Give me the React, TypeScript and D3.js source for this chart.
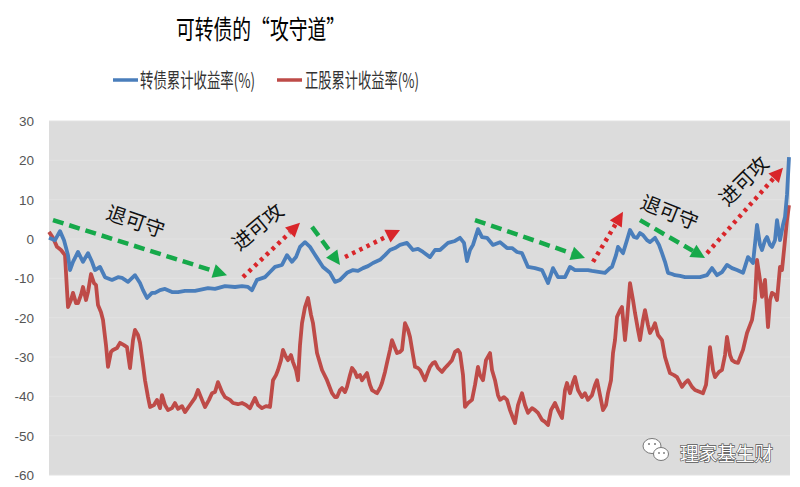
import * as d3 from "d3";

// 转债累计收益率 (%) : [交易日序号, 收益率]
const bondSeries: [number, number][] = [
  [0, 0.3], [6, -0.3], [11, 2.0], [15, -0.3], [19, -4.1], [21, -7.9], [24, -5.8], [29, -3.3], [34, -5.8], [39, -3.6],
  [43, -5.8], [46, -7.9], [51, -7.1], [56, -9.7], [63, -10.4], [69, -9.7], [73, -9.9], [79, -10.9], [86, -9.2], [91, -11.2],
  [94, -13.0], [98, -15.0], [103, -13.7], [106, -13.7], [111, -13.0], [116, -12.7], [123, -13.5], [129, -13.5], [136, -13.2],
  [146, -13.2], [159, -12.5], [166, -12.7], [176, -12.0], [186, -12.2], [193, -12.0], [199, -12.2], [203, -13.0], [208, -10.4],
  [216, -9.7], [221, -8.4], [226, -7.1], [233, -6.6], [238, -4.1], [243, -5.8], [247, -4.6], [251, -2.0], [256, -0.8],
  [261, -2.0], [265, -3.6], [268, -4.8], [274, -7.1], [281, -8.6], [286, -10.9], [291, -10.4], [298, -8.6], [304, -7.9],
  [309, -8.1], [314, -7.4], [319, -6.9], [324, -6.1], [331, -5.3], [336, -4.1], [341, -2.8], [346, -2.3], [351, -1.5],
  [358, -1.0], [364, -2.8], [369, -2.5], [374, -3.3], [381, -4.6], [386, -2.8], [391, -2.8], [399, -1.0], [406, -0.5],
  [411, 0.3], [415, -1.0], [418, -5.6], [421, -2.8], [424, -1.5], [429, 2.5], [433, 0.5], [438, 0.3], [444, -1.5],
  [451, -0.8], [458, -2.3], [463, -2.3], [468, -3.3], [473, -3.6], [479, -7.1], [486, -7.4], [493, -7.9], [499, -11.2],
  [504, -7.4], [509, -9.7], [516, -9.7], [521, -7.1], [526, -7.9], [533, -7.9], [539, -7.9], [543, -8.1], [551, -8.4],
  [556, -8.6], [561, -7.4], [563, -7.1], [567, -4.1], [569, -2.0], [574, -3.6], [578, -0.3], [581, 2.3], [585, 0.5],
  [588, 0.3], [591, 1.5], [594, 1.0], [598, -0.3], [601, -0.8], [606, 0.3], [610, -1.5], [613, -3.6], [616, -5.8],
  [619, -8.6], [623, -8.9], [626, -9.2], [631, -9.4], [636, -9.7], [641, -9.7], [646, -9.7], [651, -9.7], [658, -9.2],
  [663, -7.4], [668, -9.2], [673, -8.4], [678, -6.6], [683, -7.4], [688, -7.9], [694, -8.6], [699, -4.6], [704, -6.1],
  [708, 3.6], [711, -1.5], [713, -2.8], [716, -0.3], [718, 0.5], [721, -1.5], [723, -2.0], [726, -0.3], [728, 4.8],
  [731, -0.3], [734, 3.6], [736, 5.6], [738, 11.2], [740, 20.8],
];

// 正股累计收益率 (%)
const stockSeries: [number, number][] = [
  [0, 1.8], [4, 0.3], [8, -2.0], [12, -2.8], [16, -4.1], [18, -13.0], [19, -17.3], [22, -15.5], [24, -13.7], [27, -16.3],
  [29, -16.3], [32, -14.2], [34, -12.2], [37, -15.5], [39, -13.5], [42, -8.9], [45, -11.2], [47, -11.7], [49, -16.8],
  [52, -18.6], [54, -20.6], [57, -27.0], [59, -32.5], [62, -28.7], [64, -28.2], [68, -27.7], [71, -26.4], [75, -27.0],
  [78, -27.5], [81, -32.8], [84, -25.7], [86, -23.1], [89, -24.4], [91, -26.4], [94, -32.0], [96, -35.9], [99, -40.2],
  [101, -42.7], [105, -42.2], [108, -40.9], [111, -43.0], [113, -39.7], [116, -42.2], [119, -43.5], [123, -43.0],
  [126, -41.7], [129, -43.2], [133, -42.5], [136, -44.0], [141, -42.2], [146, -40.4], [149, -38.4], [153, -40.9],
  [156, -42.7], [160, -40.9], [163, -39.2], [166, -38.9], [169, -36.4], [173, -38.9], [176, -40.2], [181, -40.9],
  [184, -41.7], [189, -42.0], [193, -41.7], [197, -42.2], [201, -43.0], [206, -40.4], [209, -42.2], [213, -43.0],
  [217, -42.5], [221, -42.7], [224, -35.9], [227, -34.6], [229, -33.3], [232, -30.8], [234, -28.2], [237, -30.0],
  [239, -30.8], [242, -29.5], [244, -31.3], [247, -33.3], [249, -35.9], [251, -27.0], [253, -21.4], [256, -17.3],
  [259, -15.0], [262, -19.3], [264, -21.4], [268, -29.0], [273, -33.3], [278, -35.9], [283, -39.2], [286, -40.2],
  [288, -40.2], [291, -38.4], [293, -37.9], [296, -38.9], [298, -37.6], [301, -34.6], [303, -32.8], [306, -33.8],
  [308, -35.1], [311, -34.6], [313, -35.9], [316, -34.8], [318, -34.1], [321, -37.1], [323, -38.4], [326, -38.9],
  [328, -39.2], [331, -37.9], [333, -36.6], [336, -33.8], [338, -31.5], [341, -28.2], [343, -25.7], [346, -27.7],
  [348, -29.0], [351, -28.7], [353, -28.2], [356, -21.4], [359, -23.1], [361, -24.9], [364, -29.5], [366, -32.5],
  [369, -32.8], [371, -33.3], [374, -34.8], [376, -35.9], [379, -33.8], [381, -32.5], [384, -31.5], [386, -31.3],
  [389, -32.8], [393, -33.8], [396, -32.8], [399, -32.0], [403, -30.8], [406, -28.7], [409, -28.2], [411, -29.0],
  [414, -34.6], [416, -42.7], [419, -41.7], [423, -40.9], [426, -37.1], [429, -32.5], [431, -34.6], [434, -35.9],
  [437, -30.8], [441, -29.0], [443, -33.3], [446, -35.9], [449, -39.7], [451, -40.9], [455, -40.2], [458, -40.9],
  [461, -43.5], [464, -45.5], [466, -46.8], [469, -42.2], [473, -39.2], [476, -42.2], [479, -44.2], [483, -43.0],
  [486, -43.5], [489, -44.2], [493, -46.0], [496, -46.5], [499, -47.3], [502, -43.5], [506, -41.7], [509, -43.5],
  [513, -45.5], [516, -38.4], [518, -36.6], [521, -39.2], [524, -36.4], [526, -35.1], [529, -38.4], [533, -40.2],
  [536, -39.2], [539, -40.9], [543, -39.7], [546, -37.1], [548, -35.9], [551, -39.7], [554, -43.5], [557, -42.2],
  [559, -39.2], [562, -35.9], [564, -29.0], [566, -25.7], [568, -19.8], [571, -18.1], [573, -17.3], [576, -25.7],
  [578, -20.6], [581, -11.2], [584, -15.5], [586, -18.8], [589, -23.1], [591, -25.7], [594, -20.6], [596, -18.1],
  [599, -21.9], [601, -23.9], [604, -22.6], [606, -21.4], [609, -24.4], [613, -25.7], [616, -30.0], [619, -32.5],
  [621, -34.1], [625, -34.6], [628, -35.1], [631, -36.6], [633, -37.6], [636, -36.6], [639, -35.9], [643, -37.6],
  [646, -38.4], [651, -38.9], [654, -39.2], [657, -37.1], [661, -27.5], [664, -33.3], [666, -35.1], [670, -33.8],
  [673, -33.3], [676, -29.5], [678, -24.9], [681, -29.5], [683, -30.8], [686, -31.3], [689, -31.5], [692, -29.5],
  [694, -28.2], [698, -23.9], [701, -21.9], [703, -20.6], [706, -15.5], [708, -5.3], [711, -10.4], [713, -14.7],
  [716, -10.4], [719, -22.4], [721, -15.5], [723, -13.7], [726, -14.2], [728, -15.5], [731, -7.1], [733, -7.9],
  [736, -0.3], [738, 4.8], [740, 8.6],
];

const yTicks = [30, 20, 10, 0, -10, -20, -30, -40, -50, -60];

const seriesNames = ["转债累计收益率(%)", "正股累计收益率(%)"];
const seriesColors = ["#4a7ebb", "#be4b48"];

// 箭头: [起点日, 起点值, 终点日, 终点值]
const defendArrows: [number, number, number, number][] = [
  [4, 4.8, 178, -9.2],
  [263, 3.1, 291, -6.6],
  [426, 4.8, 536, -4.8],
  [591, 4.8, 656, -4.8],
];
const attackArrows: [number, number, number, number][] = [
  [194, -9.7, 251, 4.1],
  [296, -4.6, 351, 2.3],
  [544, -5.8, 574, 6.9],
  [658, -3.6, 734, 18.1],
];
// 文字标注: [文字, 日, 值, 旋转角度]
const notes: [string, number, number, number][] = [
  ["退可守", 87, 4.8, 19],
  ["进可攻", 208, 3.3, -40],
  ["退可守", 621, 7.1, 22],
  ["进可攻", 694, 15, -45],
];

const W = 800;
const H = 487;
const margin = { top: 121, right: 10, bottom: 12, left: 49 };

function Arrow(props: { seg: [number, number, number, number]; color: string; dash: string; x: any; y: any }) {
  const { seg, color, dash, x, y } = props;
  const x1 = x(seg[0]), y1 = y(seg[1]), x2 = x(seg[2]), y2 = y(seg[3]);
  const ang = Math.atan2(y2 - y1, x2 - x1);
  const headL = 14, headW = 7;
  const bx = x2 - headL * Math.cos(ang), by = y2 - headL * Math.sin(ang);
  const px = -Math.sin(ang) * headW, py = Math.cos(ang) * headW;
  return (
    <g>
      <line x1={x1} y1={y1} x2={bx} y2={by} stroke={color} strokeWidth={4.5} strokeDasharray={dash} />
      <polygon points={`${x2},${y2} ${bx + px},${by + py} ${bx - px},${by - py}`} fill={color} />
    </g>
  );
}

export default function App() {
  const x = d3.scaleLinear().domain([0, 741]).range([margin.left, W - margin.right]);
  const y = d3.scaleLinear().domain([-60, 30]).range([H - margin.bottom, margin.top]);

  const line = d3.line<[number, number]>()
    .x(d => x(d[0]))
    .y(d => y(d[1]));

  const cjk = "'Noto Sans CJK SC', 'Noto Sans', sans-serif";

  return (
    <div style={{ position: "absolute", left: 0, top: 0 }}>
      <svg width={W} height={H} style={{ display: "block", background: "#ffffff" }}>
        {/* 标题 */}
        <text x={176} y={39} fontFamily={cjk} fontSize={26} fill="#000" textLength={169} lengthAdjust="spacingAndGlyphs">
          可转债的“攻守道”
        </text>

        {/* 图例 */}
        <g fontFamily={cjk} fontSize={20} fill="#333">
          <line x1={113} x2={138} y1={80} y2={80} stroke={seriesColors[0]} strokeWidth={3.5} />
          <text x={140} y={88} textLength={115} lengthAdjust="spacingAndGlyphs">{seriesNames[0]}</text>
          <line x1={277} x2={302} y1={80} y2={80} stroke={seriesColors[1]} strokeWidth={3.5} />
          <text x={305} y={88} textLength={114} lengthAdjust="spacingAndGlyphs">{seriesNames[1]}</text>
        </g>

        {/* 绘图区 */}
        <rect x={margin.left} y={margin.top} width={W - margin.left - margin.right} height={H - margin.top - margin.bottom} fill="#dcdcdc" />
        {yTicks.map(t => (
          <line key={t} x1={margin.left} x2={W - margin.right} y1={y(t)} y2={y(t)} stroke="#e2e2e2" strokeWidth={1} />
        ))}

        {/* y 轴刻度 */}
        <g fontFamily="'Liberation Sans', Arial, sans-serif" fontSize={13.5} fill="#555" textAnchor="end">
          {yTicks.map(t => (
            <text key={t} x={34} y={y(t) + 5}>{t}</text>
          ))}
        </g>

        {/* 曲线 */}
        <path d={line(stockSeries) ?? ""} fill="none" stroke={seriesColors[1]} strokeWidth={3.8} strokeLinejoin="round" />
        <path d={line(bondSeries) ?? ""} fill="none" stroke={seriesColors[0]} strokeWidth={3.8} strokeLinejoin="round" />

        {/* 攻守箭头 */}
        {defendArrows.map((s, i) => (
          <Arrow key={"d" + i} seg={s} color="#16a94a" dash="11 6" x={x} y={y} />
        ))}
        {attackArrows.map((s, i) => (
          <Arrow key={"a" + i} seg={s} color="#d9262a" dash="3.5 4.5" x={x} y={y} />
        ))}
        {notes.map(([txt, d, v, rot], i) => (
          <text key={i} x={x(d)} y={y(v)} fontFamily={cjk} fontSize={20} fill="#111" textAnchor="middle" dominantBaseline="central"
            transform={`rotate(${rot},${x(d)},${y(v)})`}>
            {txt}
          </text>
        ))}

        {/* 水印 */}
        <g stroke="#777" strokeWidth={1} fill="#fff">
          <ellipse cx={652} cy={446} rx={9} ry={7.5} />
          <ellipse cx={661} cy={454} rx={7.5} ry={6.5} />
          <circle cx={649} cy={444} r={1} fill="#777" stroke="none" />
          <circle cx={655} cy={444} r={1} fill="#777" stroke="none" />
          <circle cx={659} cy={453} r={0.9} fill="#777" stroke="none" />
          <circle cx={664} cy={453} r={0.9} fill="#777" stroke="none" />
        </g>
        <text x={680} y={461} fontFamily={cjk} fontSize={19} fill="#fff" stroke="#555" strokeWidth={1.3}
          style={{ paintOrder: "stroke" }} textLength={93} lengthAdjust="spacingAndGlyphs">
          理家基生财
        </text>
      </svg>
    </div>
  );
}
